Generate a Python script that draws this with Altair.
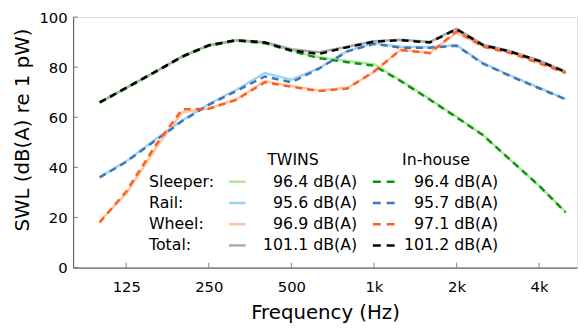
import altair as alt
import pandas as pd

freqs = [100, 125, 160, 200, 250, 315, 400, 500, 630, 800, 1000, 1250, 1600, 2000, 2500, 3150, 4000, 5000]

twins_sleeper = [65.8, 71.6, 78.1, 84.1, 88.6, 90.6, 89.7, 86.6, 84.0, 82.5, 81.2, 74.8, 67.2, 60.2, 52.9, 42.9, 32.7, 22.2]
twins_rail = [36.1, 42.5, 51.2, 58.8, 65.3, 71.0, 77.7, 75.0, 79.6, 86.5, 89.6, 88.2, 88.0, 88.9, 81.6, 76.6, 71.8, 67.3]
twins_wheel = [18.5, 29.5, 47.5, 62.0, 63.5, 67.2, 74.4, 72.5, 70.7, 71.8, 78.0, 87.0, 85.8, 93.8, 88.4, 85.8, 81.8, 77.8]
twins_total = [66.0, 71.8, 78.3, 84.3, 88.8, 90.8, 90.0, 87.2, 86.0, 88.2, 90.4, 91.0, 90.1, 95.4, 89.0, 86.4, 82.7, 78.2]

inhouse_sleeper = [65.8, 71.6, 78.1, 84.1, 88.6, 90.6, 89.6, 86.5, 83.6, 82.0, 80.6, 74.5, 67.0, 60.0, 52.8, 42.9, 32.7, 22.0]
inhouse_rail = [36.0, 42.2, 50.8, 58.5, 65.0, 70.5, 76.3, 74.0, 79.4, 86.3, 89.3, 87.8, 87.8, 88.6, 81.4, 76.4, 71.6, 67.2]
inhouse_wheel = [18.0, 30.4, 48.8, 63.2, 63.4, 67.0, 74.0, 72.2, 70.5, 71.5, 78.3, 86.9, 85.6, 94.3, 88.2, 85.6, 81.6, 77.7]
inhouse_total = [66.0, 71.8, 78.3, 84.3, 88.8, 90.8, 89.9, 86.7, 85.3, 88.0, 90.2, 90.8, 89.9, 95.2, 88.8, 86.2, 82.5, 78.1]

x_ticks = [125, 250, 500, 1000, 2000, 4000]
y_ticks = [0, 20, 40, 60, 80, 100]

legend_labels = ["Sleeper:", "Rail:", "Wheel:", "Total:"]
twins_texts = ["96.4 dB(A)", "95.6 dB(A)", "96.9 dB(A)", "101.1 dB(A)"]
inhouse_texts = ["96.4 dB(A)", "95.7 dB(A)", "97.1 dB(A)", "101.2 dB(A)"]

twins_colors = ["#b0e6a0", "#a0d2f6", "#fec4a0", "#aaaaaa"]
inhouse_colors = ["#0a960a", "#3f78b2", "#ff6020", "#000000"]

FONT = "DejaVu Sans"
AX = "#666666"

xscale = alt.Scale(type="log", domain=[80, 5500], nice=False)
yscale = alt.Scale(domain=[0, 100], nice=False)

common_axis = dict(labelFont=FONT, labelFontSize=15, labelColor="black",
                   titleFont=FONT, titleFontSize=20, titleFontWeight="normal", titleColor="black",
                   ticks=False, tickSize=0, grid=False, domainColor=AX, domainWidth=1.2)

x_axis = alt.Axis(values=x_ticks, labelExpr="datum.value >= 1000 ? (datum.value/1000) + 'k' : datum.value",
                  title="Frequency (Hz)", labelPadding=12, titlePadding=9, labelFlush=False, **common_axis)
y_axis = alt.Axis(values=y_ticks, title="SWL (dB(A) re 1 pW)", labelPadding=6,
                  titleX=-41, titleY=114, **common_axis)

layers = []
first = True
series = [(twins_sleeper, twins_colors[0], None), (twins_rail, twins_colors[1], None),
          (twins_wheel, twins_colors[2], None), (twins_total, twins_colors[3], None),
          (inhouse_sleeper, inhouse_colors[0], [7, 5]), (inhouse_rail, inhouse_colors[1], [7, 5]),
          (inhouse_wheel, inhouse_colors[2], [7, 5]), (inhouse_total, inhouse_colors[3], [7, 5])]
for vals, col, dash in series:
    df = pd.DataFrame({"freq": freqs, "level": vals})
    kw = dict(color=col, strokeWidth=2.5, clip=True)
    if dash:
        kw["strokeDash"] = dash
    if first:
        enc = dict(x=alt.X("freq:Q", scale=xscale, axis=x_axis), y=alt.Y("level:Q", scale=yscale, axis=y_axis))
        first = False
    else:
        enc = dict(x=alt.X("freq:Q", scale=xscale), y=alt.Y("level:Q", scale=yscale))
    layers.append(alt.Chart(df).mark_line(**kw).encode(**enc))

# inward tick marks
H = 254
xt = alt.Chart(pd.DataFrame({"freq": x_ticks})).mark_tick(color=AX, size=5, thickness=1.2, orient="vertical").encode(
    x=alt.X("freq:Q", scale=xscale), y=alt.value(H - 2.5))
yt = alt.Chart(pd.DataFrame({"level": y_ticks})).mark_tick(color=AX, size=5, thickness=1.2, orient="horizontal").encode(
    y=alt.Y("level:Q", scale=yscale), x=alt.value(2.5))
layers += [xt, yt]

# legend
def text_layer(t, x, y, align):
    return alt.Chart(pd.DataFrame({"t": [t]})).mark_text(font=FONT, fontSize=16, align=align, baseline="middle", color="black").encode(
        text="t:N", x=alt.value(x), y=alt.value(y))

row_y = [167, 188.5, 210, 231.5]
layers.append(text_layer("TWINS", 223, 145, "center"))
layers.append(text_layer("In-house", 368, 145, "center"))
for i in range(4):
    y = row_y[i]
    layers.append(text_layer(legend_labels[i], 77, y, "left"))
    layers.append(alt.Chart(pd.DataFrame({"a": [0]})).mark_rule(color=twins_colors[i], strokeWidth=2.5).encode(
        x=alt.value(158), x2=alt.value(175), y=alt.value(y)))
    layers.append(text_layer(twins_texts[i], 288, y, "right"))
    layers.append(alt.Chart(pd.DataFrame({"a": [0]})).mark_rule(color=inhouse_colors[i], strokeWidth=2.5, strokeDash=[8, 6]).encode(
        x=alt.value(304), x2=alt.value(328), y=alt.value(y)))
    layers.append(text_layer(inhouse_texts[i], 431, y, "right"))

chart = alt.layer(*layers).properties(
    width=511, height=H,
    autosize=alt.AutoSizeParams(type="none"),
    padding={"left": 66, "top": 7, "right": 1, "bottom": 58},
).configure_view(stroke=None).configure(font=FONT)

chart.save("out.html", embed_options={"renderer": "svg", "actions": False})
